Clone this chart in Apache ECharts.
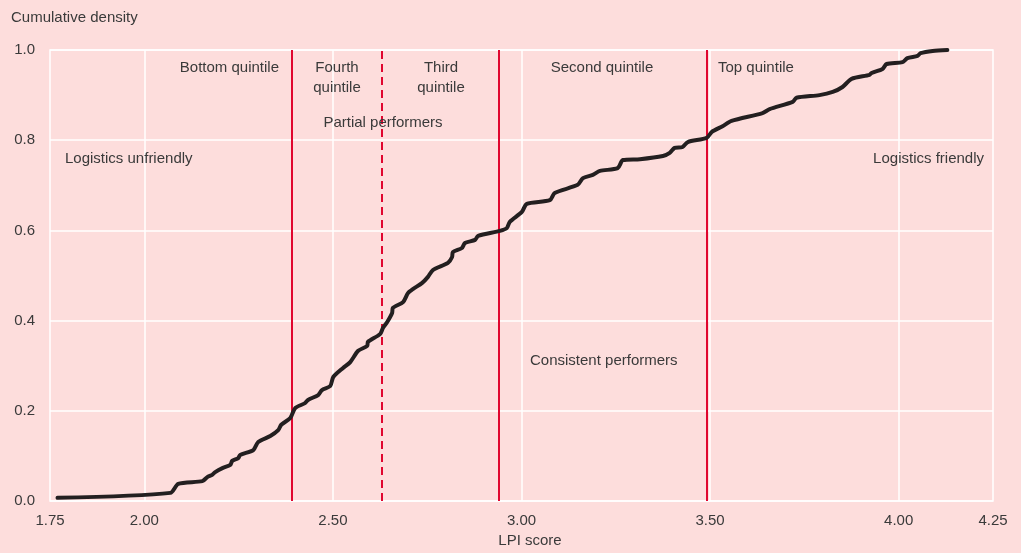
<!DOCTYPE html>
<html>
<head>
<meta charset="utf-8">
<script src="https://cdn.jsdelivr.net/npm/echarts@6/dist/echarts.min.js"></script>
<style>
html,body{margin:0;padding:0;background:#fddddc;}
#chart{width:1021px;height:553px;}
</style>
</head>
<body>
<div id="chart"></div>
<script>
// LPI score (x) and cumulative density (y)
const lpiScores = [1.770,2.069,2.090,2.154,2.167,2.180,2.188,2.207,2.228,2.233,2.249,2.254,2.289,2.302,2.334,2.355,2.363,2.387,2.400,2.426,2.434,2.461,2.471,2.493,2.501,2.527,2.546,2.567,2.591,2.593,2.625,2.633,2.644,2.657,2.659,2.686,2.699,2.712,2.736,2.752,2.765,2.805,2.816,2.818,2.842,2.850,2.877,2.885,2.943,2.961,2.969,3.001,3.014,3.075,3.088,3.149,3.163,3.189,3.208,3.255,3.269,3.314,3.375,3.393,3.406,3.427,3.441,3.491,3.504,3.533,3.557,3.639,3.658,3.719,3.729,3.790,3.825,3.851,3.875,3.923,3.928,3.957,3.968,4.010,4.023,4.050,4.058,4.090,4.129];
const cumulativeDensity = [0.007,0.018,0.038,0.044,0.053,0.058,0.064,0.073,0.080,0.089,0.095,0.102,0.113,0.131,0.144,0.157,0.169,0.184,0.206,0.217,0.224,0.235,0.246,0.255,0.275,0.295,0.308,0.333,0.344,0.353,0.370,0.384,0.397,0.417,0.428,0.441,0.461,0.470,0.483,0.497,0.512,0.528,0.541,0.552,0.561,0.572,0.579,0.588,0.599,0.605,0.619,0.641,0.659,0.667,0.683,0.701,0.716,0.723,0.732,0.738,0.756,0.758,0.765,0.772,0.783,0.785,0.796,0.805,0.818,0.831,0.843,0.860,0.869,0.885,0.894,0.900,0.907,0.918,0.936,0.945,0.949,0.958,0.969,0.973,0.982,0.987,0.993,0.998,1.000];
const solidCutoffs = [2.389, 2.940, 3.488];
const dashedCutoffs = [2.633];
const xGridValues = [2.00, 2.50, 3.00, 3.50, 4.00];
const xTickLabels = ['1.75','2.00','2.50','3.00','3.50','4.00','4.25'];
const yTickLabels = ['0.0','0.2','0.4','0.6','0.8','1.0'];

const FONT = "'Liberation Sans',Arial,sans-serif";
const FS = 15;
const TXT = '#3a3a3a';
const RED = '#e0062f';

const chart = echarts.init(document.getElementById('chart'), null, {renderer:'canvas'});

function label(text, x, y, align, lineHeight) {
  return {
    type: 'text', x: x, y: y, silent: true, z: 10,
    style: {
      text: text, fill: TXT, fontFamily: FONT, fontSize: FS,
      textAlign: align, textVerticalAlign: 'middle', lineHeight: lineHeight || 20
    }
  };
}

const option = {
  backgroundColor: '#fddddc',
  animation: false,
  grid: {left: 50, right: 28, top: 50, bottom: 52, show: true, borderColor: '#ffffff', borderWidth: 1.5, backgroundColor: 'transparent'},
  xAxis: {
    type: 'value', min: 1.75, max: 4.25, interval: 0.25,
    axisLine: {show: false}, axisTick: {show: false}, splitLine: {show: false},
    axisLabel: {
      color: TXT, fontFamily: FONT, fontSize: FS, margin: 12,
      showMinLabel: true, showMaxLabel: true,
      formatter: function (v) {
        const s = v.toFixed(2);
        return xTickLabels.indexOf(s) >= 0 ? s : '';
      }
    }
  },
  yAxis: {
    type: 'value', min: 0, max: 1, interval: 0.2,
    axisLine: {show: false}, axisTick: {show: false},
    splitLine: {show: true, lineStyle: {color: '#ffffff', width: 1.5}},
    axisLabel: {
      color: TXT, fontFamily: FONT, fontSize: FS, margin: 15,
      formatter: function (v) {
        const s = v.toFixed(1);
        return yTickLabels.indexOf(s) >= 0 ? s : '';
      }
    }
  },
  graphic: [
    label('Cumulative density', 11, 18, 'left'),
    label('LPI score', 530, 541, 'center'),
    label('Bottom quintile', 279, 68, 'right'),
    label('Fourth\nquintile', 337, 78, 'center'),
    label('Third\nquintile', 441, 78, 'center'),
    label('Second quintile', 602, 68, 'center'),
    label('Top quintile', 718, 68, 'left'),
    label('Partial performers', 383, 123, 'center'),
    label('Logistics unfriendly', 65, 159, 'left'),
    label('Logistics friendly', 984, 159, 'right'),
    label('Consistent performers', 530, 361, 'left')
  ],
  series: [
    {
      type: 'line', data: [], silent: true, z: 1,
      markLine: {
        silent: true, symbol: 'none', label: {show: false},
        lineStyle: {color: '#ffffff', width: 1.5, type: 'solid'},
        data: xGridValues.map(v => ({xAxis: v}))
      }
    },
    {
      type: 'line', data: [], silent: true, z: 2,
      markLine: {
        silent: true, symbol: 'none', label: {show: false},
        lineStyle: {color: RED, width: 2, type: 'solid'},
        data: solidCutoffs.map(v => ({xAxis: v}))
      }
    },
    {
      type: 'line', data: [], silent: true, z: 2,
      markLine: {
        silent: true, symbol: 'none', label: {show: false},
        lineStyle: {color: RED, width: 2, type: [8, 5]},
        data: dashedCutoffs.map(v => ({xAxis: v}))
      }
    },
    {
      type: 'line', z: 5,
      data: lpiScores.map((x, i) => [x, cumulativeDensity[i]]),
      showSymbol: false, smooth: 0.25,
      lineStyle: {color: '#231f20', width: 4, cap: 'round', join: 'round'}
    }
  ]
};
chart.setOption(option);
</script>
</body>
</html>
